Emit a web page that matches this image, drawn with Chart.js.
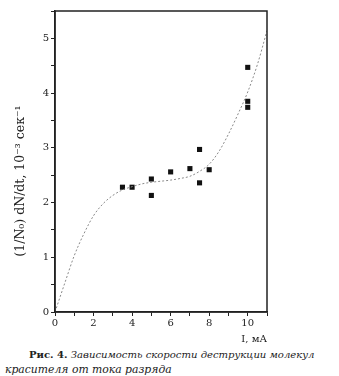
<!DOCTYPE html>
<html>
<head>
<meta charset="utf-8">
<script src="https://cdn.jsdelivr.net/npm/chart.js@4"></script>
<style>
  body { margin: 0; background: #fff; }
  #wrap { position: relative; width: 339px; height: 345px; }
  #caption {
    position: absolute; left: 0; top: 347px; width: 339px;
    font-family: "DejaVu Serif", serif;
    font-size: 10.05px; line-height: 15px; color: #222;
  }
  #caption .l1 { padding-left: 29px; white-space: nowrap; }
  #caption .l2 { padding-left: 5px; white-space: nowrap; font-size: 10.8px; }
</style>
</head>
<body>
<div id="wrap"><canvas id="grafico"></canvas></div>
<div id="caption">
  <div class="l1"><b>Рис. 4.</b> <i>Зависимость скорости деструкции молекул</i></div>
  <div class="l2"><i>красителя от тока разряда</i></div>
</div>
<script>
// Измерения: ток разряда (мА) и скорость деструкции
var tokI = [3.5, 4.0, 5.0, 5.0, 6.0, 7.0, 7.5, 7.5, 8.0, 10.0, 10.0, 10.0];
var skorost = [2.28, 2.28, 2.43, 2.13, 2.56, 2.62, 2.97, 2.36, 2.60, 4.47, 3.85, 3.74];

// Аппроксимирующая кривая (точки)
var krivayaX = [0, 0.5, 1, 1.5, 2, 2.5, 3, 3.5, 4, 4.5, 5, 5.5, 6, 6.5, 7, 7.5, 8, 8.5, 9, 9.5, 10, 10.5, 11];
var krivayaY = [0, 0.52, 1.03, 1.43, 1.76, 1.98, 2.13, 2.23, 2.29, 2.34, 2.37, 2.39, 2.41, 2.44, 2.48, 2.57, 2.70, 2.93, 3.25, 3.62, 4.02, 4.52, 5.14];

var xMetki = [0, 2, 4, 6, 8, 10];
var yMetki = [0, 1, 2, 3, 4, 5];

var shrift = "'DejaVu Serif', serif";

var tochki = tokI.map(function (x, i) { return { x: x, y: skorost[i] }; });
var liniya = krivayaX.map(function (x, i) { return { x: x, y: krivayaY[i] }; });

// Рамка вокруг области графика и подпись оси Y
var ramka = {
    id: "ramka",
    afterDraw: function (chart) {
        var a = chart.chartArea;
        var ctx = chart.ctx;
        ctx.save();
        ctx.strokeStyle = "#222";
        ctx.lineWidth = 1.5;
        ctx.strokeRect(a.left, a.top, a.right - a.left, a.bottom - a.top);

        ctx.translate(21, 181);
        ctx.rotate(-Math.PI / 2);
        ctx.fillStyle = "#222";
        ctx.font = "12.5px " + shrift;
        ctx.textAlign = "center";
        ctx.textBaseline = "middle";
        ctx.fillText("(1/N₀) dN/dt, 10⁻³ сек⁻¹", 0, 0);
        ctx.restore();
    }
};

var ctx = document.getElementById("grafico").getContext("2d");
var grafico = new Chart(ctx, {
    type: "scatter",
    data: {
        datasets: [{
            type: "line",
            data: liniya,
            borderColor: "#8a8a8a",
            borderWidth: 1,
            borderDash: [2, 2],
            pointRadius: 0,
            cubicInterpolationMode: "monotone",
            fill: false
        }, {
            data: tochki,
            pointStyle: "rect",
            pointRadius: 3.6,
            backgroundColor: "#111",
            borderWidth: 0
        }]
    },
    options: {
        responsive: true,
        maintainAspectRatio: false,
        animation: false,
        layout: { padding: { left: 0, top: 11, right: 72, bottom: 0 } },
        plugins: { legend: { display: false }, tooltip: { enabled: false } },
        scales: {
            x: {
                type: "linear",
                min: 0,
                max: 11,
                afterFit: function (s) { s.height = 33; },
                grid: { drawOnChartArea: false, drawTicks: true, tickLength: 4, color: "#222" },
                border: { color: "#222", width: 1.5 },
                ticks: {
                    stepSize: 1,
                    padding: 1,
                    color: "#222",
                    font: { family: shrift, size: 10 },
                    callback: function (v) { return xMetki.indexOf(v) >= 0 ? v : ""; }
                },
                title: {
                    display: true,
                    text: "I, мА",
                    align: "end",
                    color: "#222",
                    padding: 0,
                    font: { family: shrift, size: 10 }
                }
            },
            y: {
                min: 0,
                max: 5.5,
                afterFit: function (s) { s.width = 55; },
                grid: { drawOnChartArea: false, drawTicks: true, tickLength: 4, color: "#222" },
                border: { color: "#222", width: 1.5 },
                ticks: {
                    stepSize: 0.5,
                    padding: 2,
                    color: "#222",
                    font: { family: shrift, size: 10 },
                    callback: function (v) { return yMetki.indexOf(v) >= 0 ? v : ""; }
                }
            }
        }
    },
    plugins: [ramka]
});
</script>
</body>
</html>
